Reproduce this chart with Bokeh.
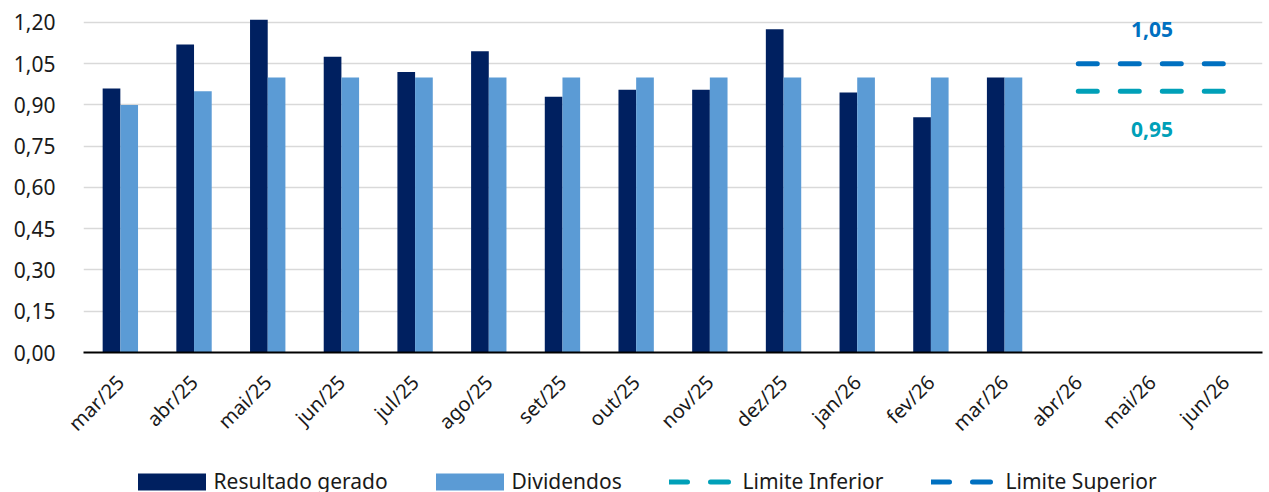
import math
from bokeh.plotting import figure
from bokeh.layouts import column
from bokeh.models import (ColumnDataSource, FactorRange, Range1d, FixedTicker,
                          CustomJSTickFormatter, Legend, LegendItem)
from bokeh.transform import dodge
from bokeh.core.properties import value
from bokeh.embed import file_html
from bokeh.resources import INLINE

nan = float("nan")

months = ["mar/25", "abr/25", "mai/25", "jun/25", "jul/25", "ago/25", "set/25",
          "out/25", "nov/25", "dez/25", "jan/26", "fev/26", "mar/26",
          "abr/26", "mai/26", "jun/26"]
resultado = [0.96, 1.12, 1.21, 1.075, 1.02, 1.095, 0.93, 0.955, 0.955, 1.175,
             0.945, 0.855, 1.00, nan, nan, nan]
dividendos = [0.90, 0.95, 1.00, 1.00, 1.00, 1.00, 1.00, 1.00, 1.00, 1.00,
              1.00, 1.00, 1.00, nan, nan, nan]
lim_inf = [nan] * 13 + [0.95, 0.95, 0.95]
lim_sup = [nan] * 13 + [1.05, 1.05, 1.05]
y_ticks = [0.0, 0.15, 0.30, 0.45, 0.60, 0.75, 0.90, 1.05, 1.20]
series_names = ["Resultado gerado", "Dividendos", "Limite Inferior", "Limite Superior"]

C_DARK = "#002060"
C_LIGHT = "#5B9BD5"
C_INF = "#00A0B8"
C_SUP = "#0070C0"
FONT = "Noto Sans"
TXT = "#1a1a1a"

src = ColumnDataSource(dict(m=months, res=resultado, div=dividendos,
                            inf=lim_inf, sup=lim_sup))

p = figure(width=1269, height=458, output_backend="svg", toolbar_location=None,
           x_range=FactorRange(*months, range_padding=0),
           y_range=Range1d(0, 1.2436),
           min_border_left=83, min_border_right=7, min_border_top=10,
           min_border_bottom=106)
p.outline_line_color = None
p.background_fill_color = "white"
p.border_fill_color = "white"

r_res = p.vbar(x=dodge("m", -0.12, range=p.x_range), top="res", width=0.24,
               source=src, fill_color=C_DARK, line_color=None)
r_div = p.vbar(x=dodge("m", 0.12, range=p.x_range), top="div", width=0.24,
               source=src, fill_color=C_LIGHT, line_color=None)
p.line(x="m", y="inf", source=src, line_color=C_INF, line_width=5,
       line_dash="19 23", line_cap="round")
p.line(x="m", y="sup", source=src, line_color=C_SUP, line_width=5,
       line_dash="19 23", line_cap="round")

# labels for the limits, placed at the middle of the limit span
mid = months[14]
lab_sup = ColumnDataSource(dict(x=[mid], y=[lim_sup[14]],
                                t=[f"{lim_sup[14]:.2f}".replace(".", ",")]))
lab_inf = ColumnDataSource(dict(x=[mid], y=[lim_inf[14]],
                                t=[f"{lim_inf[14]:.2f}".replace(".", ",")]))
p.text(x="x", y="y", text="t", source=lab_sup, y_offset=-34, text_align="center",
       text_baseline="middle", text_color=C_SUP, text_font=value(FONT),
       text_font_size="21px", text_font_style="bold")
p.text(x="x", y="y", text="t", source=lab_inf, y_offset=38, text_align="center",
       text_baseline="middle", text_color=C_INF, text_font=value(FONT),
       text_font_size="21px", text_font_style="bold")

# grid
p.xgrid.grid_line_color = None
p.ygrid.ticker = FixedTicker(ticks=y_ticks)
p.ygrid.grid_line_color = "#d9d9d9"
p.ygrid.grid_line_width = 1.5

# y axis
p.yaxis.ticker = FixedTicker(ticks=y_ticks)
p.yaxis.formatter = CustomJSTickFormatter(code="return tick.toFixed(2).replace('.', ',');")
p.yaxis.axis_line_color = None
p.yaxis.major_tick_line_color = None
p.yaxis.minor_tick_line_color = None
p.yaxis.major_tick_out = 0
p.yaxis.major_label_standoff = 28
p.yaxis.major_label_text_font = FONT
p.yaxis.major_label_text_font_size = "21px"
p.yaxis.major_label_text_color = TXT

# x axis
p.xaxis.axis_line_color = "black"
p.xaxis.axis_line_width = 2
p.xaxis.major_tick_line_color = None
p.xaxis.minor_tick_line_color = None
p.xaxis.major_tick_out = 0
p.xaxis.major_label_orientation = math.pi / 4
p.xaxis.major_label_standoff = 26
p.xaxis.major_label_text_font = FONT
p.xaxis.major_label_text_font_size = "20px"
p.xaxis.major_label_text_color = TXT

# ---- legend strip below the chart (frame aligned with the chart frame, x=83) ----
lg = figure(width=1269, height=34, output_backend="svg", toolbar_location=None,
            x_range=Range1d(0, 1), y_range=Range1d(0, 1),
            x_axis_type=None, y_axis_type=None,
            min_border_left=83, min_border_right=7, min_border_top=0,
            min_border_bottom=0)
lg.outline_line_color = None
lg.xgrid.grid_line_color = None
lg.ygrid.grid_line_color = None
lg.border_fill_color = "white"

# off-screen stand-in renderers that carry the legend styles
d_res = lg.vbar(x=[-10], top=[-10], bottom=[-11], width=0.1, fill_color=C_DARK,
                line_color=None)
d_div = lg.vbar(x=[-10], top=[-10], bottom=[-11], width=0.1, fill_color=C_LIGHT,
                line_color=None)
d_inf = lg.line(x=[-10, -9], y=[-10, -10], line_color=C_INF, line_width=5,
                line_dash="18 23", line_cap="round")
d_sup = lg.line(x=[-10, -9], y=[-10, -10], line_color=C_SUP, line_width=5,
                line_dash="18 23", line_cap="round")

FRAME_LEFT = 83
specs = [(series_names[0], d_res, 128.5, 85, 0),
         (series_names[1], d_div, 426.5, 85, 0),
         (series_names[2], d_inf, 668.5, 64, 10),
         (series_names[3], d_sup, 930.5, 64, 11)]
for name, rend, x0, gw, so in specs:
    leg = Legend(items=[LegendItem(label=name, renderers=[rend])],
                 orientation="horizontal", location=(x0 - FRAME_LEFT, -3),
                 glyph_width=gw, glyph_height=21, label_standoff=so,
                 padding=0, margin=0, border_line_color=None,
                 background_fill_alpha=0,
                 label_text_font=FONT, label_text_font_size="21px",
                 label_text_color=TXT)
    lg.add_layout(leg, "center")

layout = column(p, lg, spacing=0)
open("out.html", "w").write(file_html(layout, INLINE))
